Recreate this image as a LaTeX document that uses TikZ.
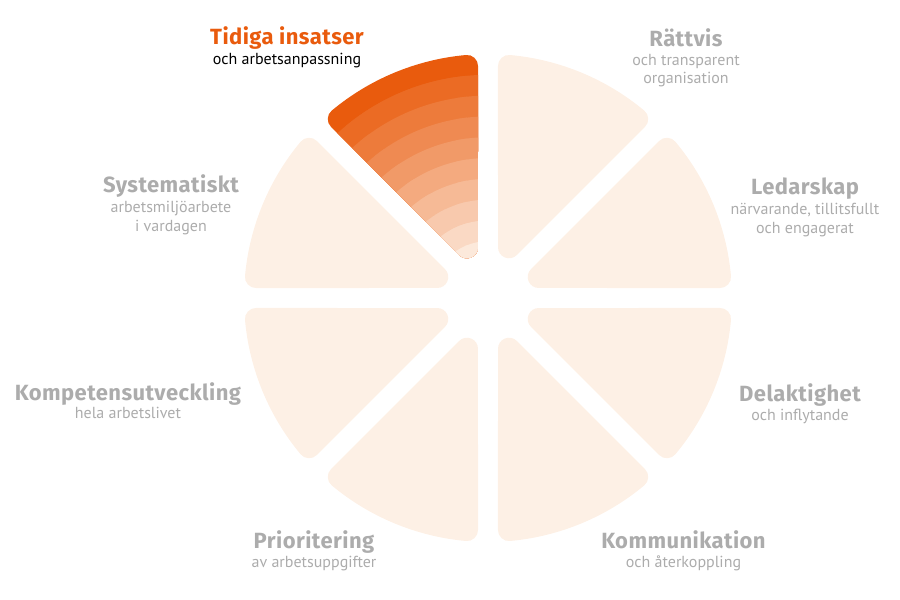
\documentclass[tikz,border=0pt]{standalone}
\usepackage{fontspec}
\setmainfont{PT Sans}
\newfontfamily\headfont[LetterSpace=2]{Fira Sans}
\usetikzlibrary{positioning}
\definecolor{tiorange}{RGB}{233,91,13}
\definecolor{tilight}{RGB}{252,233,219}
\definecolor{slicefill}{RGB}{253,240,229}
\definecolor{labelgray}{RGB}{172,172,172}
\tikzset{slice/.style={fill=slicefill, draw=slicefill, line width=22pt, line join=round}}
\tikzset{heading/.style={font=\headfont\bfseries\fontsize{22}{22}\selectfont, text=labelgray, inner sep=0pt, anchor=base}}
\tikzset{subline/.style={font=\fontsize{16}{16}\selectfont, text=labelgray, inner sep=0pt}}
\newcommand{\slicepath}[1]{(#1+22.5:54.9) -- (#1+5.17:233) arc[start angle=#1+5.17, end angle=#1+39.83, radius=233] -- cycle}

\begin{document}
\begin{tikzpicture}[x=1pt, y=1pt]
            \useasboundingbox (-488,-302) rectangle (412,298);
            % light slices
            \foreach \a in {0,45,135,180,225,270,315}
                \path[slice] \slicepath{\a};
            % highlighted slice, bands from outside in
            \foreach \i in {0,...,9} {
                \pgfmathsetmacro\rad{\i==0 ? 250 : 244-20.8*\i}
                \pgfmathsetmacro\pct{100-11.1*\i}
                \colorlet{bandcol}{tiorange!\pct!tilight}
                \begin{scope}
                    \clip (0,0) circle[radius=\rad];
                    \path[slice, fill=bandcol, draw=bandcol] \slicepath{90};
                \end{scope}
            }
            % labels
            \node[heading, text=tiorange] (tidiga) at (-201,253) {Tidiga insatser};
            \node[subline, text=black, below=20pt of tidiga.base, anchor=base] (tidigasub) {och arbetsanpassning};
            \node[heading] (rattvis) at (198,251) {Rättvis};
            \node[subline, below=19pt of rattvis.base, anchor=base] (rattvissub) {och transparent};
            \node[subline, below=17.5pt of rattvissub.base, anchor=base] (rattvissubb) {organisation};
            \node[heading] (ledarskap) at (317,103) {Ledarskap};
            \node[subline, below=19pt of ledarskap.base, anchor=base] (ledarskapsub) {närvarande, tillitsfullt};
            \node[subline, below=19pt of ledarskapsub.base, anchor=base] (ledarskapsubb) {och engagerat};
            \node[heading] (systematiskt) at (-317,106) {Systematiskt};
            \node[subline, below=20pt of systematiskt.base, anchor=base] (systematisktsub) {arbetsmiljöarbete};
            \node[subline, below=19pt of systematisktsub.base, anchor=base] (systematisktsubb) {i vardagen};
            \node[heading] (kompetens) at (-360,-102) {Kompetensutveckling};
            \node[subline, below=18pt of kompetens.base, anchor=base] (kompetenssub) {hela arbetslivet};
            \node[heading] (delaktighet) at (312,-103) {Delaktighet};
            \node[subline, below=19pt of delaktighet.base, anchor=base] (delaktighetsub) {och inflytande};
            \node[heading] (prioritering) at (-174,-250) {Prioritering};
            \node[subline, below=19pt of prioritering.base, anchor=base] (prioriteringsub) {av arbetsuppgifter};
            \node[heading] (kommunikation) at (195.5,-250) {Kommunikation};
            \node[subline, below=19pt of kommunikation.base, anchor=base] (kommunikationsub) {och återkoppling};
        \end{tikzpicture}
\end{document}
